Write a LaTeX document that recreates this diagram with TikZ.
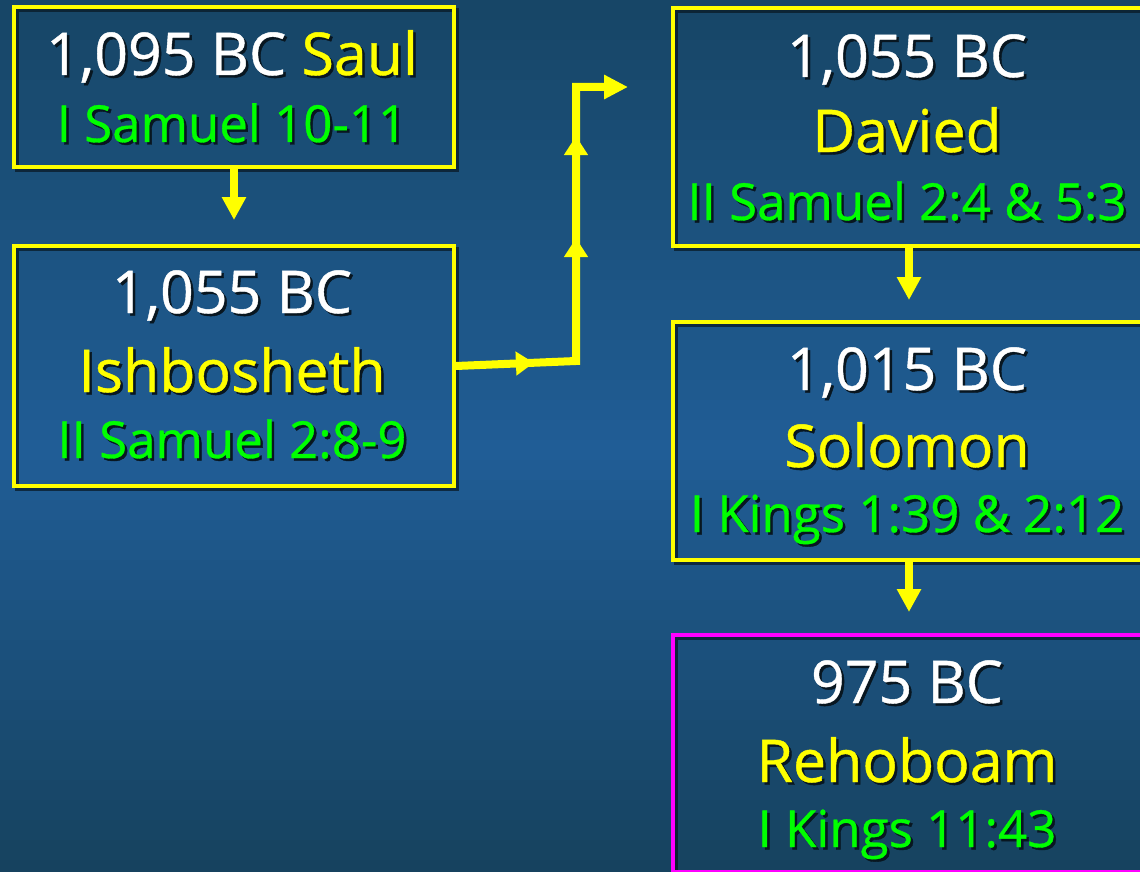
\documentclass[tikz,border=0pt]{standalone}
\usepackage{fontspec}
\setmainfont{Open Sans}[FakeBold=0.7]
\usetikzlibrary{arrows.meta,shadows,decorations.markings}
\definecolor{bgtop}{RGB}{23,70,102}
\definecolor{bgmid}{RGB}{32,93,150}
\definecolor{bgbot}{RGB}{22,66,94}
\definecolor{yel}{RGB}{255,255,0}
\definecolor{grn}{RGB}{0,255,0}
\definecolor{mag}{RGB}{255,0,255}
\definecolor{shd}{RGB}{8,22,32}
\newcommand\shtx[2]{\makebox[0pt][l]{\hspace{2.5pt}\raisebox{-2.5pt}{\textcolor{shd}{#2}}}\textcolor{#1}{#2}}
\tikzset{
  box/.style={draw=yel, line width=4pt, rectangle, anchor=north west, inner sep=0pt,
    drop shadow={shadow xshift=3pt, shadow yshift=-3pt, fill=none, draw=shd, line width=4pt, opacity=.7}},
  lineA/.style={font=\fontsize{59}{70}\selectfont, anchor=base, inner sep=0pt, text height=43pt, text depth=11pt},
  lineC/.style={font=\fontsize{51}{60}\selectfont, anchor=base, inner sep=0pt, text height=37pt, text depth=9pt},
  arr/.style={draw=yel, line width=8pt, -{Triangle[width=23pt,length=23pt]}},
  conn/.style={draw=yel, line width=8pt, -{Triangle[width=23pt,length=24pt]},
    postaction={decorate},
    decoration={markings,
      mark=at position 78pt with {\arrow{Triangle[width=23pt,length=18pt]}},
      mark=at position 243pt with {\arrow{Triangle[width=23pt,length=19pt]}},
      mark=at position 345pt with {\arrow{Triangle[width=23pt,length=19pt]}}}}
}
\begin{document}
\begin{tikzpicture}[x=1pt,y=-1pt]
\useasboundingbox (0,0) rectangle (1140,872);
% background gradient as bands
\foreach \i in {0,...,43}{
  \pgfmathsetmacro{\yy}{\i*20}
  \pgfmathtruncatemacro{\pa}{min(100,max(0,(\i*20+10)/4.5))}
  \pgfmathtruncatemacro{\pb}{min(100,max(0,(\i*20+10-450)/4.22))}
  \ifnum\i<23
    \colorlet{bandc}{bgmid!\pa!bgtop}
  \else
    \colorlet{bandc}{bgbot!\pb!bgmid}
  \fi
  \fill[bandc] (0,\yy) rectangle (1140,\yy+21);
}
\clip (0,0) rectangle (1140,872);
% boxes
\node[box, minimum width=440pt, minimum height=160pt] (saul) at (12,5) {};
\node[box, minimum width=440pt, minimum height=240pt] (ish) at (12,244) {};
\node[box, minimum width=472pt, minimum height=238pt] (dav) at (671,6) {};
\node[box, minimum width=472pt, minimum height=238pt] (sol) at (671,320) {};
\node[box, draw=mag, minimum width=472pt, minimum height=237pt] (reh) at (671,633) {};
% texts
\node[lineA] (saulA) at (232,75) {\shtx{white}{1,095 BC} \shtx{yel}{Saul}};
\node[lineC] (saulC) at (232,142) {\shtx{grn}{I Samuel 10-11}};
\node[lineA] (ishA) at (232,313) {\shtx{white}{1,055 BC}};
\node[lineA] (ishB) at (232,392) {\shtx{yel}{Ishbosheth}};
\node[lineC] (ishC) at (232,458) {\shtx{grn}{II Samuel 2:8-9}};
\node[lineA] (davA) at (907,77) {\shtx{white}{1,055 BC}};
\node[lineA] (davB) at (907,152) {\shtx{yel}{Davied}};
\node[lineC] (davC) at (907,220) {\shtx{grn}{II Samuel 2:4 \& 5:3}};
\node[lineA] (solA) at (907,390) {\shtx{white}{1,015 BC}};
\node[lineA] (solB) at (907,467) {\shtx{yel}{Solomon}};
\node[lineC] (solC) at (907,532) {\shtx{grn}{I Kings 1:39 \& 2:12}};
\node[lineA] (rehA) at (907,703) {\shtx{white}{975 BC}};
\node[lineA] (rehB) at (907,782) {\shtx{yel}{Rehoboam}};
\node[lineC] (rehC) at (907,847) {\shtx{grn}{I Kings 11:43}};
% connectors
\draw[arr, shorten >=24pt] (saul.south) -- (ish.north);
\draw[arr, shorten >=20pt] (dav.south) -- (sol.north);
\draw[arr, shorten >=21pt] (sol.south) -- (reh.north);
\coordinate (c1) at (576,361);
\coordinate (c2) at (576,87);
\coordinate (c3) at (628,87);
\draw[conn] (ish.east) -- (c1) -- (c2) -- (c3);
\end{tikzpicture}
\end{document}
